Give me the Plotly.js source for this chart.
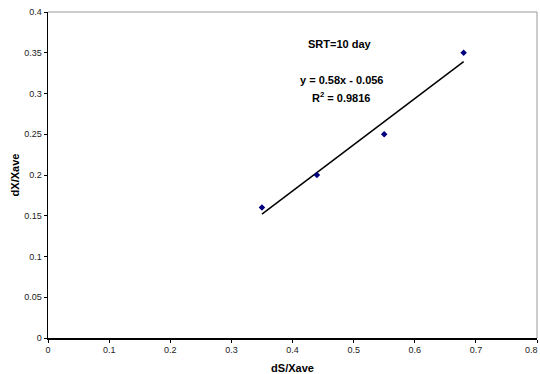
<!DOCTYPE html>
<html>
<head>
<meta charset="utf-8">
<script src="https://cdn.plot.ly/plotly-3.0.1.min.js"></script>
<style>body{margin:0;padding:0;background:#fff;}#chart{width:540px;height:374px;}</style>
</head>
<body>
<div id="chart"></div>
<script>
const dsXave = [0.35, 0.44, 0.55, 0.68];
const dxXave = [0.16, 0.20, 0.25, 0.35];
const trendX = [0.35, 0.68];
const trendY = [0.152, 0.339];
const xTicks = [0, 0.1, 0.2, 0.3, 0.4, 0.5, 0.6, 0.7, 0.8];
const yTicks = [0, 0.05, 0.1, 0.15, 0.2, 0.25, 0.3, 0.35, 0.4];
const xTickText = ['0', '0.1', '0.2', '0.3', '0.4', '0.5', '0.6', '0.7', '0.8'];
const yTickText = ['0', '0.05', '0.1', '0.15', '0.2', '0.25', '0.3', '0.35', '0.4'];

const font = 'Liberation Sans, Arial, sans-serif';

const data = [
  {x: trendX, y: trendY, mode: 'lines', line: {color: '#000000', width: 1.5}, hoverinfo: 'skip'},
  {x: dsXave, y: dxXave, mode: 'markers', marker: {symbol: 'diamond', size: 5, color: '#000080'}}
];

const layout = {
  width: 540, height: 374,
  margin: {l: 48, r: 3, t: 12, b: 36},
  paper_bgcolor: '#ffffff', plot_bgcolor: '#ffffff',
  showlegend: false,
  font: {family: font, size: 9, color: '#000'},
  xaxis: {
    range: [0, 0.8], tickvals: xTicks, ticktext: xTickText,
    showgrid: false, zeroline: false, showline: true, linecolor: '#000', linewidth: 1.5,
    ticks: 'outside', ticklen: 3, tickcolor: '#000', tickfont: {size: 9, family: font, color: '#222'},
    title: {text: '<b>dS/Xave</b>', font: {size: 11, family: font, color: '#000'}, standoff: 11}
  },
  yaxis: {
    range: [0, 0.4], tickvals: yTicks, ticktext: yTickText,
    showgrid: false, zeroline: false, showline: true, linecolor: '#000', linewidth: 1.5,
    ticks: 'outside', ticklen: 3, tickcolor: '#000', tickfont: {size: 9, family: font, color: '#222'},
    title: {text: '<b>dX/Xave</b>', font: {size: 11, family: font, color: '#000'}, standoff: 2}
  },
  shapes: [
    {type: 'line', xref: 'paper', yref: 'paper', x0: 0, x1: 1, y0: 1, y1: 1, line: {color: '#999', width: 1}},
    {type: 'line', xref: 'paper', yref: 'paper', x0: 1, x1: 1, y0: 0, y1: 1, line: {color: '#999', width: 1}}
  ],
  annotations: [
    {xref: 'paper', yref: 'paper', x: 1, y: 0, yanchor: 'top', xanchor: 'right', xshift: 3, yshift: -5, text: '0.8', showarrow: false, font: {size: 9, family: font, color: '#222'}},
    {xref: 'paper', yref: 'paper', x: (340-48)/489, y: (338-44)/326, yanchor: 'middle', text: '<b>SRT=10 day</b>', showarrow: false, font: {size: 11, family: font, color: '#000'}},
    {xref: 'paper', yref: 'paper', x: (341-48)/489, y: (338-80)/326, yanchor: 'middle', text: '<b>y = 0.58x - 0.056</b>', showarrow: false, font: {size: 11, family: font, color: '#000'}},
    {xref: 'paper', yref: 'paper', x: (341-48)/489, y: (338-97)/326, yanchor: 'middle', text: '<b>R<sup>2</sup> = 0.9816</b>', showarrow: false, font: {size: 11, family: font, color: '#000'}}
  ]
};

Plotly.newPlot('chart', data, layout, {displayModeBar: false, staticPlot: true});
</script>
</body>
</html>
